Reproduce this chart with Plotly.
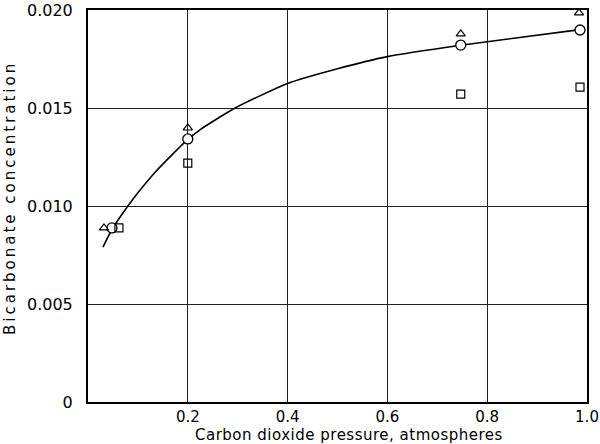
import plotly.graph_objects as go

# Measured points
circle_x = [0.048, 0.2, 0.747, 0.986]
circle_vals = [0.00888, 0.01342, 0.01821, 0.01898]
tri_x = [0.032, 0.2, 0.747, 0.984]
tri_vals = [0.00888, 0.01398, 0.01878, 0.01985]
sq_x = [0.062, 0.2, 0.747, 0.986]
sq_vals = [0.00888, 0.01219, 0.01571, 0.01607]

# Fitted curve
curve_x = [0.030, 0.048, 0.080, 0.104, 0.139, 0.200, 0.225, 0.295, 0.400, 0.500, 0.600, 0.747, 0.800, 0.986]
curve_y = [0.0079, 0.0088, 0.0100, 0.0108, 0.01185, 0.0134, 0.0139, 0.0150, 0.01625, 0.0170, 0.01762, 0.0182, 0.01838, 0.0190]

x_ticks = [0.2, 0.4, 0.6, 0.8, 1.0]
x_ticklabels = ["0.2", "0.4", "0.6", "0.8", "1.0"]
y_ticks = [0, 0.005, 0.010, 0.015, 0.020]
y_ticklabels = ["0", "0.005", "0.010", "0.015", "0.020"]

FONT = "DejaVu Sans"

fig = go.Figure()
fig.add_trace(go.Scatter(x=curve_x, y=curve_y, mode="lines",
                         line=dict(color="black", width=1.6, shape="spline", smoothing=0.6),
                         hoverinfo="skip", showlegend=False))
fig.add_trace(go.Scatter(x=circle_x, y=circle_vals, mode="markers",
                         marker=dict(symbol="circle", size=10, color="white",
                                     line=dict(color="black", width=1.3)),
                         showlegend=False))
fig.add_trace(go.Scatter(x=tri_x, y=tri_vals, mode="markers",
                         marker=dict(symbol="triangle-up-open", size=8, color="black",
                                     line=dict(color="black", width=1.2)),
                         showlegend=False))
fig.add_trace(go.Scatter(x=sq_x, y=sq_vals, mode="markers",
                         marker=dict(symbol="square-open", size=8, color="black",
                                     line=dict(color="black", width=1.2)),
                         showlegend=False))

fig.update_layout(
    width=600, height=444,
    margin=dict(l=88, r=13, t=10, b=42),
    paper_bgcolor="white", plot_bgcolor="white",
    font=dict(family=FONT, size=14, color="black"),
    xaxis=dict(range=[0, 1.0], tickvals=x_ticks, ticktext=x_ticklabels,
               showgrid=True, gridcolor="#222222", gridwidth=1,
               showline=True, linecolor="black", linewidth=2, mirror=True,
               zeroline=False, ticks="", ticklen=0, automargin=False,
               tickfont=dict(family=FONT, size=15), ticklabelstandoff=0),
    yaxis=dict(range=[0, 0.020], tickvals=y_ticks, ticktext=y_ticklabels,
               showgrid=True, gridcolor="#222222", gridwidth=1,
               showline=True, linecolor="black", linewidth=2, mirror=True,
               zeroline=False, ticks="", ticklen=0, automargin=False,
               tickfont=dict(family=FONT, size=16), ticklabelstandoff=10),
    annotations=[
        dict(text='<span style="letter-spacing:0.5px">Carbon dioxide pressure, atmospheres</span>',
             xref="paper", yref="paper",
             x=0.5, y=0, xanchor="center", yanchor="middle", xshift=11, yshift=-33,
             showarrow=False, font=dict(family=FONT, size=15)),
        dict(text='<span style="letter-spacing:3px">Bicarbonate concentration</span>',
             xref="paper", yref="paper",
             x=0, y=0.5, xanchor="center", yanchor="middle", xshift=-78, yshift=8,
             textangle=-90, showarrow=False, font=dict(family=FONT, size=15)),
    ],
)

fig.write_html("out.html", config={"displayModeBar": False},
               post_script="document.body.style.margin='0';")
